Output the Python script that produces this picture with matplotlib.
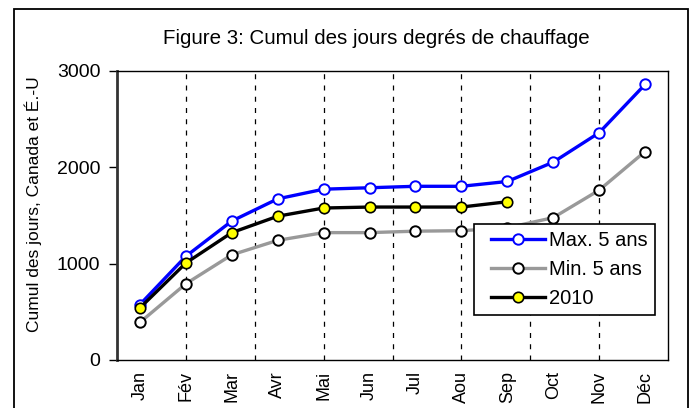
import numpy as np
import matplotlib
matplotlib.use('Agg')
from matplotlib import pyplot as plt
from matplotlib.patches import Rectangle
from matplotlib.legend_handler import HandlerLine2D

plt.rcParams['font.family'] = ['Liberation Sans', 'DejaVu Sans']

months = ['Jan', 'Fév', 'Mar', 'Avr', 'Mai', 'Jun', 'Jul', 'Aou', 'Sep', 'Oct', 'Nov', 'Déc']
max5 = [575, 1075, 1440, 1670, 1770, 1785, 1800, 1800, 1850, 2050, 2355, 2855]
min5 = [390, 790, 1090, 1240, 1320, 1320, 1335, 1340, 1370, 1475, 1760, 2160]
y2010 = [540, 1005, 1320, 1490, 1575, 1585, 1585, 1585, 1640]

fig = plt.figure(figsize=(6.9, 4.08), dpi=100)
ax = fig.add_axes([117 / 690, 1 - 360 / 408, (668 - 117) / 690, (360 - 70.5) / 408])

x = np.arange(len(months))

# dashed grid sits on a 1.5-category step (secondary axis in the original)
for gx in np.arange(1, 11, 1.5):
    ax.axvline(gx, color='black', lw=0.9, ls=(0, (4, 5)), zorder=1)

l1, = ax.plot(x, max5, color='#0000ff', lw=2.4, marker='o', ms=7.5, mfc='white',
              mec='#0000ff', mew=1.4, label='Max. 5 ans', zorder=3)
l2, = ax.plot(x, min5, color='#999999', lw=2.4, marker='o', ms=7.5, mfc='white',
              mec='black', mew=1.4, label='Min. 5 ans', zorder=2)
l3, = ax.plot(x[:len(y2010)], y2010, color='black', lw=2.4, marker='o', ms=7.5, mfc='#ffff00',
              mec='black', mew=1.2, label='2010', zorder=4)

ax.set_xlim(-0.5, 11.5)
ax.set_ylim(0, 3000)
ax.set_yticks([0, 1000, 2000, 3000])
ax.set_xticks(x)
ax.set_xticklabels(months, rotation=90, fontsize=13)
ax.tick_params(axis='x', length=0, pad=8)
ax.tick_params(axis='y', length=6, width=1, direction='out', pad=6, labelsize=14)
for s in ['top', 'right', 'bottom']:
    ax.spines[s].set_linewidth(1.0)
ax.spines['left'].set_linewidth(2.0)
ax.spines['left'].set_color('#333333')

hm = {h: HandlerLine2D(xpad=0.5) for h in (l1, l2, l3)}
leg = ax.legend(loc='lower right', bbox_to_anchor=(538 / 551, 45 / 289.5), borderaxespad=0,
                fontsize=14.5, frameon=True, fancybox=False, edgecolor='black', framealpha=1,
                handlelength=3.2, handletextpad=0.2, borderpad=0.35, labelspacing=0.5,
                handler_map=hm)
leg.get_frame().set_linewidth(1.2)

fig.text(376 / 690, 1 - 39 / 408, 'Figure 3: Cumul des jours degrés de chauffage',
         ha='center', va='center', fontsize=14.8)
fig.text(33 / 690, 1 - 204.5 / 408, 'Cumul des jours, Canada et É.-U', rotation=90,
         ha='center', va='center', fontsize=12.5)

fig.patches.append(Rectangle((14 / 690, -0.1), (687.5 - 14) / 690, 1.1 - 9.5 / 408,
                             transform=fig.transFigure, fill=False, ec='black', lw=1.3))

fig.savefig('out.png', dpi=100)
